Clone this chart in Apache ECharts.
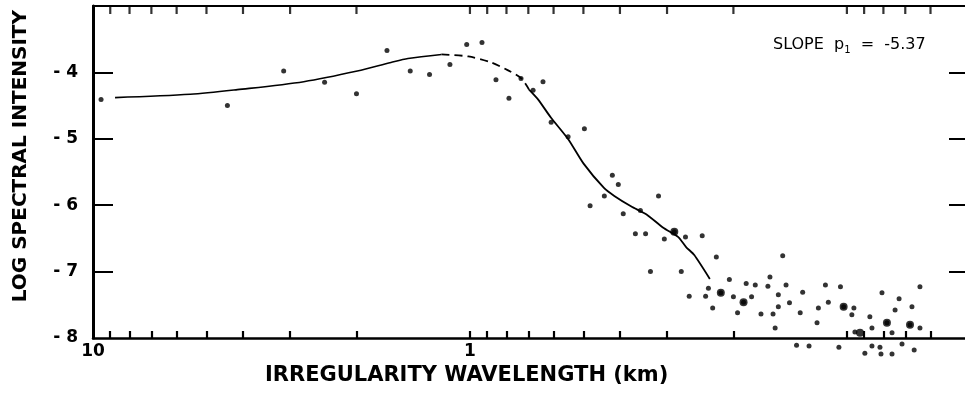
<!DOCTYPE html>
<html>
<head>
<meta charset="utf-8">
<script src="https://cdn.jsdelivr.net/npm/echarts@6/dist/echarts.min.js"></script>
<style>
  html, body { margin: 0; padding: 0; background: #ffffff; }
  #chart { width: 965px; height: 393px; }
</style>
</head>
<body>
<div id="chart"></div>
<script>
// Fitted spectrum, long-wavelength solid part (km, log intensity)
const fitA_km  = [8.74, 5.52, 4.14, 2.76, 1.99, 1.62, 1.46, 1.19];
const fitA_log = [-4.38, -4.33, -4.26, -4.14, -3.98, -3.85, -3.79, -3.73];

// Dashed turnover near 1 km
const fitB_km  = [1.19, 1.01, 0.879, 0.792, 0.731, 0.697];
const fitB_log = [-3.73, -3.76, -3.85, -3.97, -4.09, -4.26];

// Steep power-law fall-off
const fitC_km  = [0.697, 0.659, 0.610, 0.548, 0.500, 0.441, 0.414, 0.373, 0.340, 0.307, 0.280, 0.267, 0.254, 0.231];
const fitC_log = [-4.26, -4.41, -4.68, -5.01, -5.37, -5.74, -5.86, -6.02, -6.14, -6.34, -6.48, -6.63, -6.75, -7.11];

// Individual spectral estimates
const pointKm = [
  9.52, 4.40, 3.12, 2.43, 2.00, 1.66, 1.44, 1.28, 1.13, 1.02,
  0.929, 0.853, 0.788, 0.732, 0.640, 0.680, 0.497, 0.549, 0.609, 0.419,
  0.404, 0.440, 0.480, 0.392, 0.353, 0.316, 0.364, 0.342, 0.305, 0.287,
  0.268, 0.332, 0.275, 0.262, 0.242, 0.222, 0.233, 0.237, 0.216, 0.205,
  0.227, 0.200, 0.195, 0.185, 0.175, 0.188, 0.179, 0.169, 0.162, 0.160,
  0.157, 0.155, 0.152, 0.152, 0.148, 0.145, 0.142, 0.133, 0.131, 0.119,
  0.120, 0.112, 0.114, 0.136, 0.126, 0.104, 0.102, 0.0958, 0.0970, 0.0952,
  0.0869, 0.0858, 0.0807, 0.0727, 0.0745, 0.0783, 0.0759, 0.0672, 0.0680, 0.0640,
  0.0640, 0.105, 0.0858, 0.0817, 0.0812, 0.0759, 0.0714, 0.0663, 0.0896
];
const pointLog = [
  -4.41, -4.50, -3.98, -4.15, -4.32, -3.67, -3.98, -4.03, -3.88, -3.58,
  -3.55, -4.11, -4.39, -4.09, -4.14, -4.27, -4.85, -4.97, -4.75, -5.55,
  -5.69, -5.86, -6.01, -6.13, -6.08, -5.86, -6.43, -6.43, -6.51, -6.40,
  -6.48, -7.00, -7.00, -7.37, -6.46, -6.78, -7.25, -7.37, -7.32, -7.12,
  -7.55, -7.38, -7.62, -7.18, -7.20, -7.46, -7.38, -7.64, -7.22, -7.08,
  -7.64, -7.85, -7.53, -7.35, -6.76, -7.20, -7.47, -7.62, -7.31, -7.55,
  -7.77, -7.46, -7.20, -8.11, -8.12, -7.23, -7.53, -7.55, -7.65, -7.91,
  -7.68, -7.85, -7.32, -7.41, -7.58, -7.77, -7.92, -7.53, -7.80, -7.85,
  -7.23, -8.14, -8.12, -8.14, -8.24, -8.24, -8.09, -8.18, -8.23
];

// Heavier clustered estimates in the short-wavelength tail
const clusterKm  = [0.287, 0.216, 0.188, 0.102, 0.0923, 0.0783, 0.0680];
const clusterLog = [-6.40, -7.32, -7.46, -7.53, -7.92, -7.77, -7.80];

// Axis ticks
const xTickKm = [9, 8, 7, 6, 5, 4, 3, 2, 1, 0.9, 0.8, 0.7, 0.6, 0.5, 0.4, 0.3, 0.2, 0.1, 0.09, 0.08, 0.07, 0.06];
const xLabelKm = [10, 1];
const yTicks = [-7, -6, -5, -4];
const yLabels = [-8, -7, -6, -5, -4];
const Y_MIN = -8;
const Y_MAX = -3;

const zip = (a, b) => a.map((v, i) => [v, b[i]]);

const INK = '#000000';
const FONT = 'DejaVu Sans';

const chart = echarts.init(document.getElementById('chart'), null, { renderer: 'canvas' });

chart.setOption({
  animation: false,
  backgroundColor: '#ffffff',
  grid: { left: 93, right: 0, top: 6, bottom: 55, containLabel: false },
  xAxis: [
    {
      type: 'log',
      logBase: 10,
      inverse: true,
      min: 0.0486,
      max: 10,
      position: 'bottom',
      splitLine: { show: false },
      axisLine: { show: true, lineStyle: { color: INK, width: 2.5 } },
      axisTick: { show: true, inside: true, length: 7, customValues: xTickKm, lineStyle: { color: INK, width: 2.2 } },
      axisLabel: {
        show: true,
        customValues: xLabelKm,
        margin: 5,
        color: INK,
        fontFamily: FONT,
        fontWeight: 'bold',
        fontSize: 17,
        formatter: v => String(Math.round(v))
      }
    },
    {
      type: 'log',
      logBase: 10,
      inverse: true,
      min: 0.0486,
      max: 10,
      position: 'top',
      splitLine: { show: false },
      axisLine: { show: true, onZero: false, lineStyle: { color: INK, width: 2 } },
      axisTick: { show: false },
      axisLabel: { show: false }
    }
  ],
  yAxis: [
    {
      type: 'value',
      position: 'left',
      min: Y_MIN,
      max: Y_MAX,
      interval: 1,
      splitLine: { show: false },
      axisLine: { show: true, lineStyle: { color: INK, width: 3 } },
      axisTick: { show: true, inside: true, length: 20, customValues: yTicks, lineStyle: { color: INK, width: 2 } },
      axisLabel: {
        show: true,
        customValues: yLabels,
        margin: 15,
        color: INK,
        fontFamily: FONT,
        fontWeight: 'bold',
        fontSize: 17,
        formatter: v => '- ' + Math.abs(v)
      }
    },
    {
      type: 'value',
      position: 'right',
      min: Y_MIN,
      max: Y_MAX,
      interval: 1,
      splitLine: { show: false },
      axisLine: { show: false },
      axisTick: { show: true, inside: true, length: 16, customValues: yTicks, lineStyle: { color: INK, width: 2 } },
      axisLabel: { show: false }
    }
  ],
  series: [
    {
      // inward tick marks hanging from the upper frame line
      type: 'scatter',
      data: xTickKm.map(v => [v, Y_MAX]),
      symbol: 'rect',
      symbolSize: [2.2, 8],
      symbolOffset: [0, 4],
      clip: false,
      silent: true,
      z: 5,
      itemStyle: { color: INK }
    },
    {
      type: 'line',
      data: zip(fitA_km, fitA_log),
      smooth: 0.3,
      symbol: 'none',
      lineStyle: { color: INK, width: 1.6 }
    },
    {
      type: 'line',
      data: zip(fitB_km, fitB_log),
      smooth: 0.3,
      symbol: 'none',
      lineStyle: { color: INK, width: 1.8, type: [8, 5] }
    },
    {
      type: 'line',
      data: zip(fitC_km, fitC_log),
      smooth: 0.2,
      symbol: 'none',
      lineStyle: { color: INK, width: 1.8 }
    },
    {
      type: 'scatter',
      data: zip(pointKm, pointLog),
      symbol: 'circle',
      symbolSize: 5,
      clip: false,
      itemStyle: { color: INK }
    },
    {
      type: 'scatter',
      data: zip(clusterKm, clusterLog),
      symbol: 'circle',
      symbolSize: 8,
      clip: false,
      itemStyle: { color: INK }
    }
  ],
  graphic: [
    {
      type: 'text',
      left: 11,
      top: 10,
      rotation: Math.PI / 2,
      style: { text: 'LOG SPECTRAL INTENSITY', fill: INK, font: 'bold 20px "DejaVu Sans"' }
    },
    {
      type: 'text',
      left: 265,
      top: 365,
      style: { text: 'IRREGULARITY WAVELENGTH (km)', fill: INK, font: 'bold 21px "DejaVu Sans"' }
    },
    {
      type: 'text',
      left: 773,
      top: 37,
      style: {
        text: '{a|SLOPE  p}{s|1}{a|  =  -5.37}',
        rich: {
          a: { fill: INK, fontFamily: FONT, fontSize: 16 },
          s: { fill: INK, fontFamily: FONT, fontSize: 10, padding: [11, 0, 0, 0] }
        }
      }
    }
  ]
});
</script>
</body>
</html>
